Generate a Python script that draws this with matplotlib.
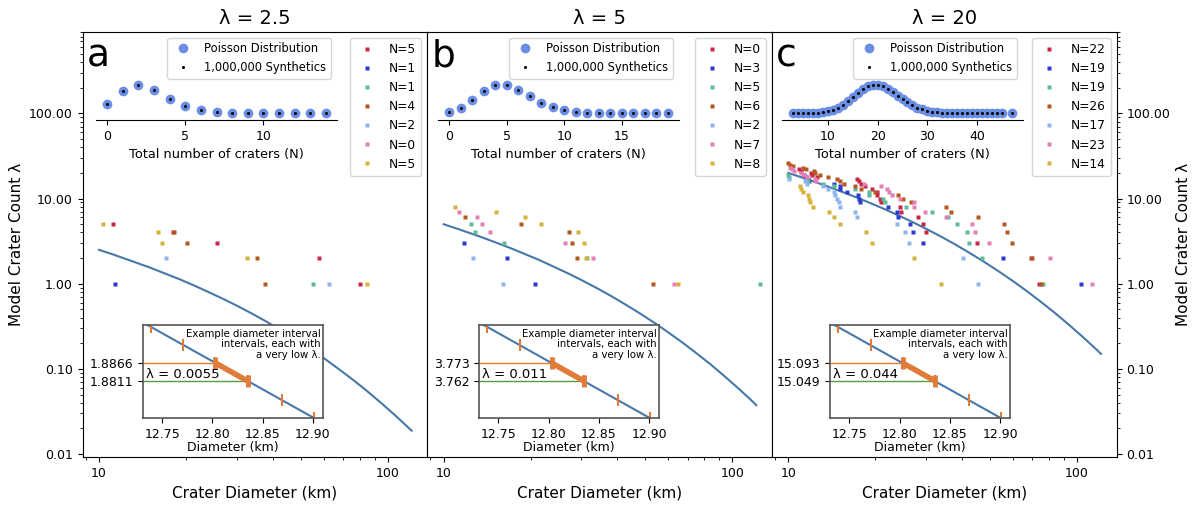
import matplotlib.pyplot as plt
import numpy as np
from matplotlib.ticker import FuncFormatter, NullFormatter

# model curve: cumulative crater count vs diameter, one per panel
diam = [10, 11, 12, 13.5, 15, 17, 19, 21.5, 24, 27, 30, 34, 38, 43, 48, 54,
        60, 67, 75, 84, 94, 105, 115, 121]
model_a = [2.5, 2.25, 2.03, 1.76, 1.55, 1.31, 1.13, 0.943, 0.796, 0.66, 0.553,
           0.443, 0.359, 0.28, 0.223, 0.171, 0.134, 0.102, 0.0765, 0.0564,
           0.0409, 0.0294, 0.0221, 0.0188]
model_b = [5.0, 4.49, 4.06, 3.53, 3.09, 2.63, 2.25, 1.89, 1.59, 1.32, 1.105,
           0.885, 0.718, 0.56, 0.445, 0.343, 0.268, 0.205, 0.153, 0.113,
           0.0818, 0.0588, 0.0443, 0.0375]
model_c = [20.0, 17.97, 16.25, 14.11, 12.37, 10.50, 9.01, 7.54, 6.37, 5.28,
           4.42, 3.54, 2.87, 2.24, 1.78, 1.37, 1.073, 0.819, 0.612, 0.451,
           0.327, 0.235, 0.177, 0.150]

titles = ['λ = 2.5', 'λ = 5', 'λ = 20']
letters = ['a', 'b', 'c']

# crater diameters of seven example synthetics, largest count first
synth_a = [
    [11.2, 18.0, 25.6, 58.0, 80.0],
    [11.4],
    [55.3],
    [18.2, 20.2, 35.2, 37.6],
    [17.0, 62.8],
    [],
    [10.35, 16.0, 16.5, 32.6, 84.8],
]
synth_b = [
    [],
    [11.73, 16.56, 20.70],
    [12.43, 12.80, 16.13, 31.41, 125.0],
    [11.88, 18.52, 27.07, 27.87, 28.86, 53.2],
    [12.60, 16.09],
    [11.27, 13.08, 13.57, 14.50, 26.30, 32.86, 63.0],
    [10.98, 15.21, 19.07, 21.72, 29.24, 30.59, 31.08, 64.7],
]
synth_c = [
    [10.9, 11.09, 11.98, 12.04, 12.6, 17.23, 17.61, 17.84, 18.47, 19.43, 20.22,
     20.32, 20.76, 20.92, 24.34, 24.54, 28.1, 29.24, 29.95, 45.0, 69.0, 74.0],
    [11.3, 11.51, 11.67, 11.8, 14.35, 15.05, 15.1, 16.0, 17.47, 17.51, 17.65,
     22.18, 23.71, 24.02, 26.4, 27.1, 29.2, 55.6, 103.0],
    [9.97, 10.08, 11.60, 11.67, 13.15, 14.43, 17.0, 18.97, 19.06, 21.33, 21.54,
     25.54, 31.33, 35.6, 38.5, 41.6, 42.2, 46.8, 76.4],
    [9.97, 10.16, 10.38, 11.24, 11.51, 12.27, 12.37, 12.84, 13.75, 14.70, 15.05,
     15.54, 17.05, 17.84, 20.0, 23.9, 24.9, 26.6, 35.1, 36.6, 45.5, 55.9, 57.1,
     59.4, 69.7, 74.8],
    [10.08, 11.42, 11.60, 13.18, 13.68, 14.35, 14.47, 14.77, 15.01, 15.05, 17.01,
     17.29, 23.71, 25.40, 26.16, 40.3, 45.3],
    [10.16, 10.27, 10.46, 11.1, 11.33, 11.6, 12.37, 12.47, 18.32, 20.92, 21.95,
     22.23, 22.91, 24.34, 27.29, 27.35, 29.79, 35.1, 43.2, 44.4, 49.5, 80.6, 112.4],
    [10.97, 11.1, 11.27, 11.69, 11.82, 11.88, 12.17, 13.79, 14.39, 15.05, 18.52,
     19.43, 27.35, 33.92],
]
synth_colors = ['#c8264b', '#2b3bd1', '#5dbb95', '#b5581f', '#8fb5ee', '#e57fb5', '#d7b23a']

# Poisson distribution of total crater number (top insets)
pois_n_a = list(range(0, 15))
pois_a = [0.0821, 0.2052, 0.2565, 0.2138, 0.1336, 0.0668, 0.0278, 0.0099, 0.0031,
          0.0009, 0.0002, 0.0001, 0.0, 0.0, 0.0]
pois_n_b = list(range(0, 20))
pois_b = [0.0067, 0.0337, 0.0842, 0.1404, 0.1755, 0.1755, 0.1462, 0.1044, 0.0653,
          0.0363, 0.0181, 0.0082, 0.0034, 0.0013, 0.0005, 0.0002, 0.0001, 0.0, 0.0, 0.0]
pois_n_c = list(range(3, 46)) + [47]
pois_c = [0.0, 0.0, 0.0001, 0.0002, 0.0005, 0.0013, 0.0029, 0.0058, 0.0106, 0.0177,
          0.0271, 0.0387, 0.0516, 0.0646, 0.0760, 0.0844, 0.0888, 0.0888, 0.0846,
          0.0769, 0.0669, 0.0557, 0.0446, 0.0343, 0.0254, 0.0181, 0.0125, 0.0083,
          0.0054, 0.0034, 0.0020, 0.0012, 0.0007, 0.0004, 0.0002, 0.0001, 0.0001,
          0.0, 0.0, 0.0, 0.0, 0.0, 0.0, 0.0]

# zoomed diameter intervals (bottom insets)
interval_d = [12.739, 12.771, 12.803, 12.835, 12.869, 12.901]
interval_a = [1.8976, 1.8921, 1.8866, 1.8811, 1.8753, 1.8698]
interval_b = [3.7952, 3.7842, 3.7732, 3.7622, 3.7506, 3.7396]
interval_c = [15.181, 15.137, 15.093, 15.049, 15.002, 14.958]
zoom_d = [12.725, 12.915]
zoom_a = [1.9000, 1.8674]
zoom_b = [3.8000, 3.7346]
zoom_c = [15.200, 14.938]
zoom_ticklabels = [['1.8866', '1.8811'], ['3.773', '3.762'], ['15.093', '15.049']]
zoom_lambda = ['λ = 0.0055', 'λ = 0.011', 'λ = 0.044']
zoom_ylim = [(1.8698, 1.8982), (3.7396, 3.7964), (14.958, 15.186)]

models = [model_a, model_b, model_c]
synths = [synth_a, synth_b, synth_c]
pois_ns = [pois_n_a, pois_n_b, pois_n_c]
pois = [pois_a, pois_b, pois_c]
intervals = [interval_a, interval_b, interval_c]
zooms = [zoom_a, zoom_b, zoom_c]

line_color = '#4878a8'
pois_color = '#6b8ee5'
orange = '#e07b39'
green = '#5a9e3a'

W, H = 1200, 508
fig = plt.figure(figsize=(12, 5.08), dpi=100)
left, right, bottom, top = 82.7 / W, 1116.7 / W, 1 - 457.3 / H, 1 - 32 / H
pw = (right - left) / 3
top_inset_x = [96.3, 438.3, 782.3]
bot_inset_x = [143.0, 479.3, 830.3]

axes = []
for i in range(3):
    ax = fig.add_axes([left + i * pw, bottom, pw, top - bottom],
                      sharey=axes[0] if axes else None)
    axes.append(ax)
    ax.set_xscale('log')
    ax.set_yscale('log')
    ax.plot(diam, models[i], color=line_color, lw=1.5, zorder=2)
    for col, pts in zip(synth_colors, synths[i]):
        ranks = list(range(len(pts), 0, -1))
        ax.plot(pts, ranks, 's', ms=2.3, color=col, mec='none', zorder=3,
                label='N=%d' % len(pts))
    ax.set_xlim(8.78, 137.2)
    ax.set_ylim(0.00915, 905)
    ax.xaxis.set_major_formatter(FuncFormatter(lambda v, p: '%g' % v))
    ax.xaxis.set_minor_formatter(NullFormatter())
    ax.yaxis.set_major_formatter(FuncFormatter(lambda v, p: '%.2f' % v))
    ax.yaxis.set_minor_formatter(NullFormatter())
    ax.tick_params(labelsize=9)
    ax.set_xlabel('Crater Diameter (km)', fontsize=11)
    ax.set_title(titles[i], fontsize=14)
    ax.text(0.012, 0.918, letters[i], transform=ax.transAxes, fontsize=27,
            va='baseline', ha='left')
    ax.legend(loc='upper right', fontsize=8.8, handletextpad=0.8)

    if i == 0:
        ax.set_ylabel('Model Crater Count λ', fontsize=11)
    elif i == 1:
        ax.tick_params(axis='y', which='both', left=False, labelleft=False)
    else:
        ax.yaxis.tick_right()
        ax.yaxis.set_label_position('right')
        ax.set_ylabel('Model Crater Count λ', fontsize=11)

    # Poisson inset
    ins = fig.add_axes([top_inset_x[i] / W, 1 - 120 / H, 240.4 / W, 88 / H])
    ins.patch.set_alpha(0)
    ins.plot(pois_ns[i], pois[i], 'o', ms=7, color=pois_color, mec='none',
             label='Poisson Distribution')
    ins.plot(pois_ns[i], pois[i], 'o', ms=2.2, color='k', mec='none',
             label='1,000,000 Synthetics')
    m = max(pois[i])
    ins.set_ylim(-0.2367 * m, 2.873 * m)
    for s in ['left', 'right', 'top']:
        ins.spines[s].set_visible(False)
    ins.set_yticks([])
    ins.tick_params(labelsize=9)
    ins.set_xlabel('Total number of craters (N)', fontsize=9.3)
    ins.legend(loc='upper right', fontsize=8.3)

    # zoomed interval inset
    bi = fig.add_axes([bot_inset_x[i] / W, 1 - 418 / H, 180 / W, 93 / H])
    bi.set_facecolor('white')
    bi.set_zorder(5)
    iv = intervals[i]
    bi.plot(zoom_d, zooms[i], color=line_color, lw=1.5)
    bi.plot([12.70, interval_d[2]], [iv[2], iv[2]], color=orange, lw=1)
    bi.plot([12.70, interval_d[3]], [iv[3], iv[3]], color=green, lw=1)
    bi.plot(interval_d, iv, '|', color=orange, ms=8, mew=1.5)
    bi.plot(interval_d[2:4], iv[2:4], color=orange, lw=4, solid_capstyle='butt',
            marker='|', ms=9, mew=3.5)
    bi.set_xlim(12.731, 12.910)
    bi.set_ylim(*zoom_ylim[i])
    bi.set_xticks([12.75, 12.80, 12.85, 12.90])
    bi.xaxis.set_major_formatter(FuncFormatter(lambda v, p: '%.2f' % v))
    bi.set_yticks([iv[2], iv[3]])
    bi.set_yticklabels(zoom_ticklabels[i])
    bi.tick_params(labelsize=9)
    bi.set_xlabel('Diameter (km)', fontsize=9, labelpad=0)
    for s in bi.spines.values():
        s.set_color('#555555')
        s.set_linewidth(1.2)
    bi.text(0.015, 0.47, zoom_lambda[i], transform=bi.transAxes, fontsize=9.5,
            va='center', ha='left')
    bi.text(0.985, 0.96, 'Example diameter interval\nintervals, each with\na very low λ.',
            transform=bi.transAxes, fontsize=7.3, va='top', ha='right',
            linespacing=1.05)

plt.savefig('out.png', dpi=100)
